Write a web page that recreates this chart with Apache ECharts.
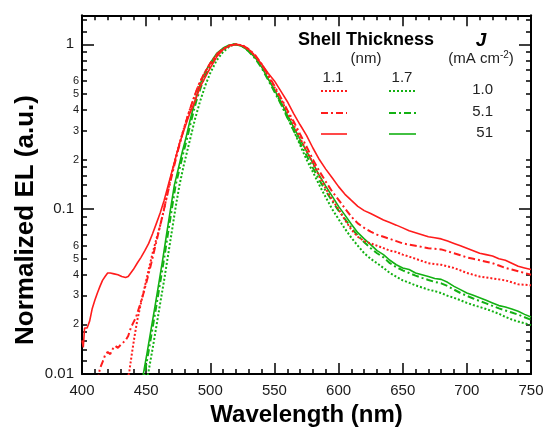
<!DOCTYPE html>
<html><head><meta charset="utf-8">
<script src="https://cdn.jsdelivr.net/npm/echarts@6/dist/echarts.min.js"></script>
<style>html,body{margin:0;padding:0;background:#fff}#c{width:543px;height:427px}</style>
</head><body><div id="c"></div>
<script>
// ---- data (wavelength in nm, normalized EL) ----
// Shell 1.1 nm, J = 51 mA cm-2 (red solid)
const wlR51 = [400,401,402,403,404,406,408,410,412,414,416,418,420,422,425,428,431,434,436,438,440,443,446,449,452,455,458,461,464,467,470,473,476,480,484,488,492,496,500,505,510,515,520,525,530,535,540,545,550,555,560,565,570,575,580,585,590,595,600,605,610,615,620,625,630,635,640,645,650,655,660,665,670,675,680,685,690,695,700,705,710,715,720,725,730,735,740,745,750];
const elR51 = [0.016,0.0145,0.019,0.0185,0.019,0.021,0.025,0.028,0.031,0.034,0.037,0.039,0.041,0.041,0.0405,0.040,0.039,0.0385,0.039,0.041,0.043,0.047,0.051,0.056,0.062,0.071,0.082,0.095,0.113,0.138,0.168,0.205,0.25,0.31,0.38,0.45,0.55,0.63,0.72,0.84,0.93,0.98,1.0,0.98,0.93,0.85,0.76,0.67,0.6,0.52,0.45,0.38,0.325,0.28,0.235,0.2,0.175,0.155,0.137,0.123,0.113,0.104,0.098,0.094,0.09,0.086,0.083,0.08,0.077,0.074,0.072,0.07,0.068,0.067,0.066,0.064,0.062,0.06,0.058,0.056,0.054,0.053,0.052,0.05,0.049,0.047,0.045,0.044,0.043];
// Shell 1.1 nm, J = 5.1 (red dash-dot)
const wlR5 = [412,414,416,418,420,422,424,426,428,430,432,434,436,438,440,442,445,448,451,454,457,460,463,466,469,472,475,479,483,487,491,495,500,505,510,515,520,525,530,535,540,545,550,555,560,565,570,575,580,585,590,595,600,605,610,615,620,625,630,635,640,645,650,655,660,665,670,675,680,685,690,695,700,705,710,715,720,725,730,735,740,745,750];
const elR5 = [0.009,0.0108,0.0118,0.013,0.0136,0.0132,0.0142,0.0148,0.0144,0.015,0.0155,0.016,0.017,0.019,0.0205,0.022,0.026,0.031,0.038,0.047,0.059,0.074,0.093,0.118,0.148,0.185,0.23,0.3,0.38,0.47,0.57,0.66,0.77,0.87,0.94,0.985,1.0,0.985,0.935,0.86,0.76,0.655,0.56,0.475,0.4,0.34,0.285,0.24,0.2,0.17,0.147,0.128,0.114,0.101,0.09,0.082,0.077,0.073,0.07,0.068,0.066,0.064,0.062,0.061,0.06,0.059,0.058,0.0575,0.057,0.0555,0.054,0.0525,0.051,0.05,0.049,0.048,0.047,0.0455,0.044,0.043,0.042,0.041,0.04];
// Shell 1.1 nm, J = 1.0 (red dotted)
const wlR1 = [435,437,439,441,443,446,449,452,455,458,461,464,467,470,473,476,480,484,488,492,496,500,505,510,515,520,525,530,535,540,545,550,555,560,565,570,575,580,585,590,595,600,605,610,615,620,625,630,635,640,645,650,655,660,665,670,675,680,685,690,695,700,705,710,715,720,725,730,735,740,745,750];
const elR1 = [0.0088,0.0105,0.0135,0.017,0.021,0.027,0.034,0.043,0.054,0.066,0.08,0.1,0.13,0.165,0.205,0.25,0.32,0.40,0.49,0.59,0.68,0.76,0.86,0.935,0.98,1.0,0.985,0.93,0.85,0.75,0.645,0.55,0.465,0.39,0.325,0.27,0.225,0.19,0.158,0.133,0.114,0.1,0.086,0.075,0.068,0.064,0.062,0.06,0.058,0.056,0.055,0.053,0.0515,0.05,0.0485,0.047,0.0465,0.046,0.045,0.044,0.0425,0.041,0.04,0.039,0.0385,0.038,0.0375,0.037,0.036,0.035,0.0348,0.0345];
// Shell 1.7 nm, J = 51 (green solid)
const wlG51 = [446,448,451,454,457,460,463,466,469,472,475,478,481,484,488,492,496,500,505,510,514,518,522,526,530,535,540,545,550,555,560,565,570,575,580,585,590,595,600,605,610,615,620,625,630,635,640,645,650,655,660,665,670,675,680,685,690,695,700,705,710,715,720,725,730,735,740,745,750];
const elG51 = [0.0085,0.0102,0.0138,0.019,0.026,0.036,0.05,0.071,0.1,0.14,0.175,0.22,0.27,0.34,0.45,0.57,0.68,0.77,0.88,0.95,0.985,1.0,0.99,0.96,0.91,0.83,0.73,0.62,0.53,0.45,0.375,0.315,0.265,0.225,0.19,0.16,0.138,0.12,0.104,0.092,0.081,0.072,0.066,0.061,0.056,0.053,0.049,0.046,0.044,0.043,0.041,0.04,0.039,0.038,0.0375,0.036,0.034,0.0325,0.031,0.03,0.029,0.028,0.027,0.026,0.0255,0.0248,0.024,0.023,0.0222];
// Shell 1.7 nm, J = 5.1 (green dash-dot)
const wlG5 = [447,449,452,455,458,461,464,467,470,473,476,479,482,485,489,493,497,501,505,510,514,518,522,526,530,535,540,545,550,555,560,565,570,575,580,585,590,595,600,605,610,615,620,625,630,635,640,645,650,655,660,665,670,675,680,685,690,695,700,705,710,715,720,725,730,735,740,745,750];
const elG5 = [0.0085,0.0102,0.0138,0.019,0.026,0.036,0.05,0.071,0.1,0.14,0.175,0.22,0.27,0.34,0.45,0.56,0.67,0.76,0.85,0.935,0.98,1.0,0.99,0.96,0.905,0.82,0.72,0.61,0.515,0.435,0.36,0.3,0.252,0.212,0.178,0.15,0.129,0.112,0.098,0.087,0.077,0.069,0.063,0.058,0.054,0.051,0.047,0.0445,0.0425,0.041,0.0395,0.0383,0.0372,0.0362,0.0355,0.0342,0.0325,0.031,0.0298,0.0287,0.0277,0.0268,0.0259,0.025,0.0243,0.0236,0.0229,0.0221,0.0213];
// Shell 1.7 nm, J = 1.0 (green dotted)
const wlG1 = [450,452,455,458,461,464,467,470,473,476,479,482,485,488,492,496,500,505,510,515,519,523,527,531,535,540,545,550,555,560,565,570,575,580,585,590,595,600,605,610,615,620,625,630,635,640,645,650,655,660,665,670,675,680,685,690,695,700,705,710,715,720,725,730,735,740,745,750];
const elG1 = [0.0088,0.0105,0.0142,0.0195,0.027,0.037,0.052,0.073,0.103,0.14,0.18,0.225,0.28,0.35,0.45,0.56,0.67,0.8,0.9,0.97,1.0,0.99,0.96,0.91,0.84,0.74,0.63,0.53,0.44,0.365,0.3,0.245,0.2,0.168,0.14,0.118,0.1,0.087,0.076,0.067,0.06,0.054,0.05,0.047,0.044,0.041,0.039,0.037,0.0358,0.0345,0.0335,0.0325,0.0318,0.031,0.0298,0.029,0.028,0.027,0.0262,0.0255,0.0248,0.024,0.0232,0.0222,0.0214,0.0208,0.0203,0.0198];

// ---- axis ticks / labels ----
const xMin = 400, xMax = 750, xStep = 50;
const yMin = 0.01, yMax = 1.5;
const yMajor = [0.01, 0.1, 1];
const yMinorTicks = [0.012,0.014,0.016,0.018,0.02,0.03,0.04,0.05,0.06,0.07,0.08,0.09,0.12,0.14,0.16,0.18,0.2,0.3,0.4,0.5,0.6,0.7,0.8,0.9,1.2,1.4];
const yMinorLabels = [0.02,0.03,0.04,0.05,0.06,0.2,0.3,0.4,0.5,0.6];

// ---- legend text ----
const legendTitle = 'Shell Thickness';
const legendUnit = '(nm)';
const shellLabels = ['1.1', '1.7'];
const jLabels = ['1.0', '5.1', '51'];

const FONT = "'Liberation Sans', Arial, Helvetica, sans-serif";
const RED = '#ff1c1c', GREEN = '#13b113';
const DOT = [2, 2], DASHDOT = [7, 3, 2, 3];

function pairs(w, v) { const n = Math.min(w.length, v.length); const o = []; for (let i = 0; i < n; i++) o.push([w[i], v[i]]); return o; }
function mk(name, w, v, color, dash) {
  return { name, type: 'line', xAxisIndex: 0, yAxisIndex: 0, data: pairs(w, v), showSymbol: false, symbol: 'none',
    clip: true, lineStyle: { color, width: dash === 'solid' ? 1.6 : 2, type: dash }, z: 3 };
}
function lead(v) { const e = Math.floor(Math.log10(v) + 1e-9); return String(Math.round(v / Math.pow(10, e))); }

const chart = echarts.init(document.getElementById('c'), null, { renderer: 'canvas' });
const axBase = { axisLine: { show: true, lineStyle: { color: '#000', width: 2 } }, splitLine: { show: false }, minorSplitLine: { show: false } };
const tickStyle = { color: '#000', width: 1.5 };

const lx1 = 321, lx2 = 347, gx1 = 389, gx2 = 416, ly = [91, 113, 134];
const graphic = [
  { type: 'text', x: 26, y: 220, rotation: Math.PI / 2, style: { text: 'Normalized EL (a.u.)', fill: '#000', font: 'bold 26px ' + FONT, align: 'center', verticalAlign: 'middle' } },
  { type: 'text', x: 366, y: 40, style: { text: legendTitle, fill: '#000', font: 'bold 18px ' + FONT, align: 'center', verticalAlign: 'middle' } },
  { type: 'text', x: 366, y: 59, style: { text: legendUnit, fill: '#222', font: '15px ' + FONT, align: 'center', verticalAlign: 'middle' } },
  { type: 'text', x: 481, y: 41, style: { text: 'J', fill: '#000', font: 'italic bold 19px ' + FONT, align: 'center', verticalAlign: 'middle' } },
  { type: 'text', x: 481, y: 59, style: { text: '{a|(mA cm}{s|-2}{a|)}', align: 'center', verticalAlign: 'middle',
      rich: { a: { fontSize: 15, fontFamily: FONT, fill: '#222', lineHeight: 17 }, s: { fontSize: 10, fontFamily: FONT, fill: '#222', verticalAlign: 'top', lineHeight: 17, padding: [0, 0, 6, 0] } } } },
  { type: 'text', x: 333, y: 78, style: { text: shellLabels[0], fill: '#222', font: '15px ' + FONT, align: 'center', verticalAlign: 'middle' } },
  { type: 'text', x: 402, y: 78, style: { text: shellLabels[1], fill: '#222', font: '15px ' + FONT, align: 'center', verticalAlign: 'middle' } }
];
const dashes = [DOT, DASHDOT, null];
for (let i = 0; i < 3; i++) {
  graphic.push({ type: 'line', shape: { x1: lx1, y1: ly[i], x2: lx2, y2: ly[i] }, style: { stroke: RED, lineWidth: dashes[i] ? 2 : 1.6, lineDash: dashes[i] } });
  graphic.push({ type: 'line', shape: { x1: gx1, y1: ly[i], x2: gx2, y2: ly[i] }, style: { stroke: GREEN, lineWidth: dashes[i] ? 2 : 1.6, lineDash: dashes[i] } });
  graphic.push({ type: 'text', x: 493, y: ly[i] - 1, style: { text: jLabels[i], fill: '#222', font: '15px ' + FONT, align: 'right', verticalAlign: 'middle' } });
}

chart.setOption({
  animation: false,
  backgroundColor: '#fff',
  textStyle: { fontFamily: FONT },
  grid: { left: 82, right: 12, top: 15.3, bottom: 53, containLabel: false, outerBoundsMode: 'none' },
  xAxis: [
    Object.assign({}, axBase, { type: 'value', position: 'bottom', min: xMin, max: xMax, interval: xStep,
      axisTick: { show: true, inside: true, length: 11, lineStyle: tickStyle },
      minorTick: { show: true, splitNumber: 5, length: 5, lineStyle: tickStyle },
      axisLabel: { show: true, fontSize: 15, color: '#1a1a1a', margin: 9, fontFamily: FONT },
      name: 'Wavelength (nm)', nameLocation: 'middle', nameGap: 26,
      nameTextStyle: { fontSize: 24, fontWeight: 'bold', color: '#000', fontFamily: FONT } }),
    Object.assign({}, axBase, { type: 'value', position: 'top', min: xMin, max: xMax, interval: xStep,
      axisTick: { show: true, inside: true, length: 11, lineStyle: tickStyle },
      minorTick: { show: true, splitNumber: 5, length: 5, lineStyle: tickStyle },
      axisLabel: { show: false } })
  ],
  yAxis: [
    Object.assign({}, axBase, { type: 'log', logBase: 10, position: 'left', min: yMin, max: yMax,
      axisTick: { show: true, inside: true, length: 12, lineStyle: tickStyle, customValues: yMajor },
      axisLabel: { show: true, fontSize: 15, color: '#1a1a1a', margin: 8, fontFamily: FONT, customValues: yMajor, formatter: v => String(+(+v).toPrecision(3)) } }),
    Object.assign({}, axBase, { type: 'log', logBase: 10, position: 'left', min: yMin, max: yMax, axisLine: { show: false },
      axisTick: { show: true, inside: true, length: 5, lineStyle: tickStyle, customValues: yMinorTicks },
      axisLabel: { show: true, fontSize: 11, color: '#1a1a1a', margin: 3, fontFamily: FONT, customValues: yMinorLabels, formatter: v => lead(+v) } }),
    Object.assign({}, axBase, { type: 'log', logBase: 10, position: 'right', min: yMin, max: yMax,
      axisTick: { show: true, inside: true, length: 12, lineStyle: tickStyle, customValues: yMajor },
      axisLabel: { show: false } }),
    Object.assign({}, axBase, { type: 'log', logBase: 10, position: 'right', min: yMin, max: yMax, axisLine: { show: false },
      axisTick: { show: true, inside: true, length: 5, lineStyle: tickStyle, customValues: yMinorTicks },
      axisLabel: { show: false } })
  ],
  series: [
    mk('1.7 nm, 1.0', wlG1, elG1, GREEN, DOT),
    mk('1.7 nm, 5.1', wlG5, elG5, GREEN, DASHDOT),
    mk('1.7 nm, 51', wlG51, elG51, GREEN, 'solid'),
    mk('1.1 nm, 1.0', wlR1, elR1, RED, DOT),
    mk('1.1 nm, 5.1', wlR5, elR5, RED, DASHDOT),
    mk('1.1 nm, 51', wlR51, elR51, RED, 'solid')
  ],
  graphic
});
</script>
</body></html>
